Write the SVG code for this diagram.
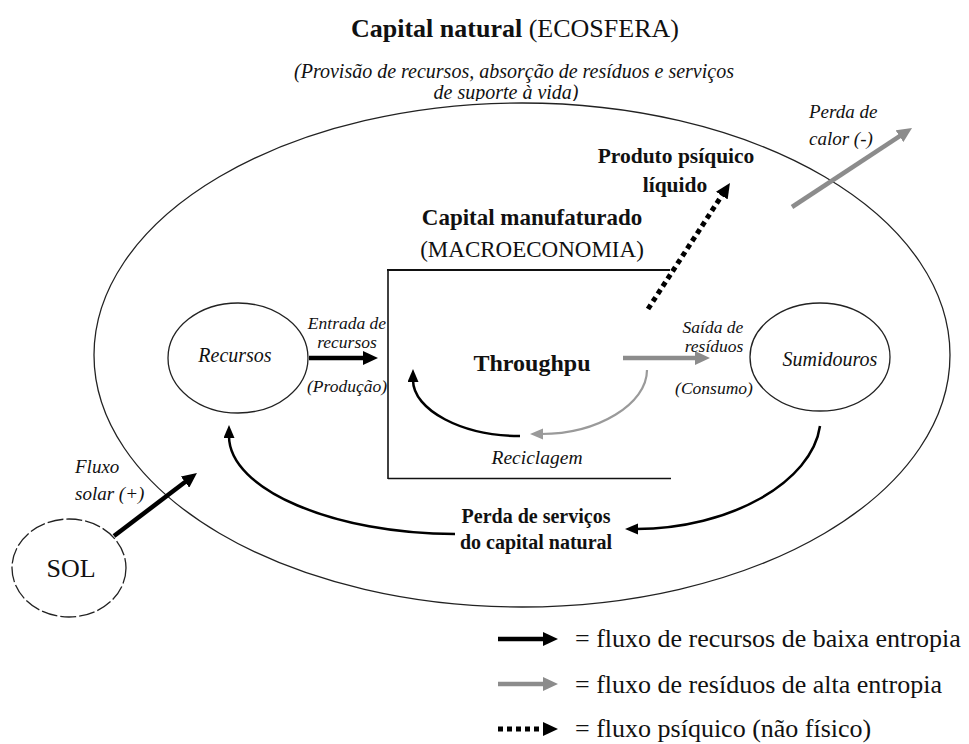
<svg xmlns="http://www.w3.org/2000/svg" width="969" height="744" viewBox="0 0 969 744">
<style>
text{font-family:"Liberation Serif","Times New Roman",serif;fill:#111}
.b{font-weight:bold}
.i{font-style:italic}
.c{text-anchor:middle}
.ell{fill:none;stroke:#222;stroke-width:1.3}
.box{fill:none;stroke:#111}
.blk{fill:none;stroke:#000;stroke-width:4.5}
.gry{fill:none;stroke:#8c8c8c;stroke-width:4.5}
.cb{fill:none;stroke:#000;stroke-width:2.5}
.cg{fill:none;stroke:#9a9a9a;stroke-width:2.2}
.dot{fill:none;stroke:#000;stroke-width:5;stroke-dasharray:5 4}
</style>
<defs>
<marker id="mkB" markerUnits="userSpaceOnUse" markerWidth="16" markerHeight="14" refX="3" refY="7" orient="auto"><path d="M0,0 L15,7 L0,14 z" fill="#000"/></marker>
<marker id="mkG" markerUnits="userSpaceOnUse" markerWidth="16" markerHeight="14" refX="3" refY="7" orient="auto"><path d="M0,0 L15,7 L0,14 z" fill="#8c8c8c"/></marker>
<marker id="mkBs" markerUnits="userSpaceOnUse" markerWidth="14" markerHeight="12" refX="2" refY="5.5" orient="auto"><path d="M0,0 L13,5.5 L0,11 z" fill="#000"/></marker>
<marker id="mkGs" markerUnits="userSpaceOnUse" markerWidth="14" markerHeight="12" refX="2" refY="5.5" orient="auto"><path d="M0,0 L13,5.5 L0,11 z" fill="#9a9a9a"/></marker>
<clipPath id="clipSub"><rect x="0" y="0" width="969" height="101"/></clipPath>
</defs>

<g id="title">
<text x="351" y="37" font-size="26"><tspan class="b">Capital natural</tspan> (ECOSFERA)</text>
</g>
<g id="subtitle">
<text class="i c" x="514" y="78" font-size="20">(Provisão de recursos, absorção de resíduos e serviços</text>
<text class="i c" x="506" y="99" font-size="20" clip-path="url(#clipSub)">de suporte à vida)</text>
</g>

<g id="ecosfera">
<ellipse class="ell" cx="522" cy="355" rx="428" ry="252"/>
</g>

<g id="macroeconomia">
<line class="box" x1="387" y1="270" x2="670" y2="270" stroke-width="2.2"/>
<line class="box" x1="388" y1="269" x2="388" y2="479" stroke-width="1.6"/>
<line class="box" x1="388" y1="478.5" x2="671" y2="478.5" stroke-width="1.6"/>
<text class="b c" x="532" y="225" font-size="23">Capital manufaturado</text>
<text class="c" x="532" y="257" font-size="23">(MACROECONOMIA)</text>
</g>

<g id="recursos">
<ellipse class="ell" cx="238" cy="358" rx="70" ry="55"/>
<text class="i c" x="235" y="362" font-size="20">Recursos</text>
</g>

<g id="sumidouros">
<ellipse class="ell" cx="820" cy="357" rx="70" ry="54"/>
<text class="i c" x="830" y="366" font-size="20">Sumidouros</text>
</g>

<g id="sol">
<ellipse class="ell" cx="69" cy="568" rx="57" ry="49" stroke-dasharray="16 3"/>
<text class="c" x="71" y="577" font-size="26">SOL</text>
</g>

<g id="throughput">
<text class="b c" x="532" y="371" font-size="24">Throughpu</text>
</g>

<g id="connectors">
<line class="blk" x1="309" y1="358" x2="366" y2="358" marker-end="url(#mkB)"/>
<line class="gry" x1="623" y1="358" x2="698" y2="358" marker-end="url(#mkG)"/>
<line class="blk" x1="114" y1="536" x2="187.4" y2="480.3" marker-end="url(#mkB)"/>
<line class="gry" x1="792" y1="207" x2="902" y2="134.6" marker-end="url(#mkG)"/>
<line class="dot" x1="648" y1="309" x2="723.4" y2="193.1" marker-end="url(#mkB)"/>
<path class="cg" d="M647,370 C647,404 598,434 541,434" marker-end="url(#mkGs)"/>
<path class="cb" d="M520,436 C462,436 413,410 413,380" marker-end="url(#mkBs)"/>
<path class="cb" d="M455,534 C335,534 229,490 229,436" marker-end="url(#mkBs)"/>
<path class="cb" d="M820,426 C812,482 730,529 636,529" marker-end="url(#mkBs)"/>
</g>

<g id="labels">
<text class="i c" x="347" y="329" font-size="17.5">Entrada de</text>
<text class="i c" x="347" y="348" font-size="17.5">recursos</text>
<text class="i c" x="347" y="392" font-size="17.5">(Produção)</text>
<text class="i c" x="713" y="333" font-size="17.5">Saída de</text>
<text class="i c" x="714" y="352" font-size="17.5">resíduos</text>
<text class="i c" x="714" y="394" font-size="17.5">(Consumo)</text>
<text class="i c" x="537" y="464" font-size="19.5">Reciclagem</text>
<text class="b c" x="676" y="163" font-size="21.5">Produto psíquico</text>
<text class="b c" x="675" y="192" font-size="21.5">líquido</text>
<text class="i" x="809" y="118" font-size="19">Perda de</text>
<text class="i" x="809" y="145" font-size="19">calor (-)</text>
<text class="i" x="75" y="473" font-size="19">Fluxo</text>
<text class="i" x="75" y="500" font-size="19">solar (+)</text>
<text class="b c" x="536" y="523" font-size="20">Perda de serviços</text>
<text class="b c" x="536" y="549" font-size="20">do capital natural</text>
</g>

<g id="legend">
<line class="blk" x1="498" y1="639" x2="546" y2="639" marker-end="url(#mkB)"/>
<text x="575" y="647" font-size="26">= fluxo de recursos de baixa entropia</text>
<line class="gry" x1="498" y1="684" x2="546" y2="684" marker-end="url(#mkG)"/>
<text x="575" y="693" font-size="26">= fluxo de resíduos de alta entropia</text>
<line class="dot" x1="498" y1="729" x2="546" y2="729" stroke-width="4" stroke-dasharray="4 4" marker-end="url(#mkB)"/>
<text x="575" y="737" font-size="26">= fluxo psíquico (não físico)</text>
</g>
</svg>
